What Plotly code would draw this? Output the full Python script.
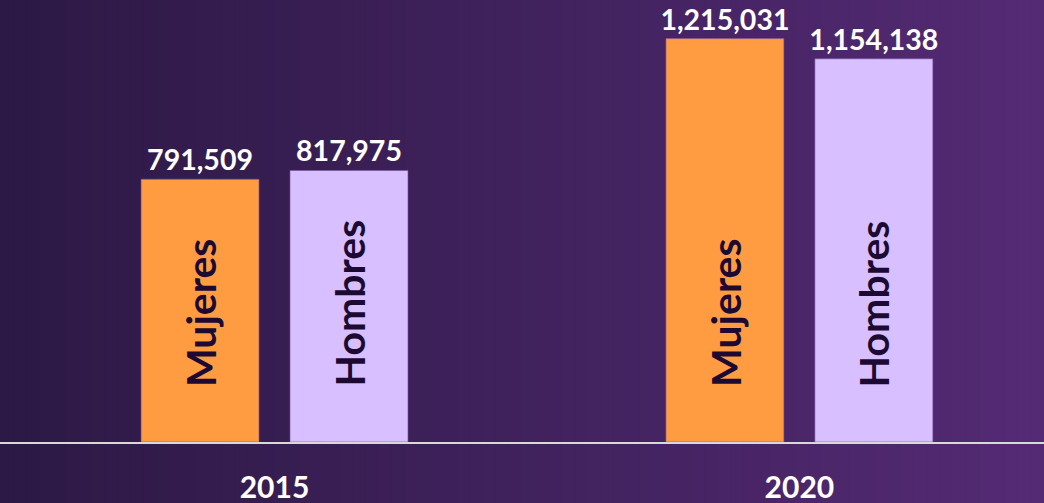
import plotly.graph_objects as go

years = ["2015", "2020"]
series_names = ["Mujeres", "Hombres"]
mujeres = [791509, 1215031]
hombres = [817975, 1154138]

W, H = 1044, 503
ORANGE = "#FF9C42"
LAVENDER = "#D8BFFF"
DARK = "#1c0a33"
FONT = "Lato"

fig = go.Figure()
for name, vals, col in [(series_names[0], mujeres, ORANGE), (series_names[1], hombres, LAVENDER)]:
    fig.add_trace(go.Bar(
        name=name, x=years, y=vals,
        marker=dict(color=col, line=dict(color="rgba(120,80,160,0.6)", width=1)),
        text=[f"{v:,}" for v in vals], textposition="outside", constraintext="none",
        textfont=dict(family=FONT, size=28.5, color="white", weight="bold"),
        cliponaxis=False,
    ))

# gradient background stripes
n = 80
c0 = (44, 25, 69)
c1 = (84, 42, 116)
shapes = []
for i in range(n):
    t = i / (n - 1)
    c = tuple(int(round(a + (b - a) * t)) for a, b in zip(c0, c1))
    shapes.append(dict(type="rect", xref="paper", yref="paper", layer="below",
                       x0=i / n, x1=(i + 1) / n + 0.002, y0=-0.5, y1=1.05,
                       fillcolor=f"rgb{c}", line=dict(width=0)))

annotations = []
for gi, yr in enumerate(years):
    for name, shift in [(series_names[0], -74.5), (series_names[1], 74.5)]:
        annotations.append(dict(
            x=gi, y=0, xref="x", yref="y", text=f"<b>{name}</b>", showarrow=False,
            textangle=-90, xshift=shift, yshift=53, yanchor="bottom", xanchor="center",
            font=dict(family=FONT, size=41, color=DARK),
        ))

fig.update_layout(
    width=W, height=H,
    margin=dict(l=0, r=0, t=0, b=61),
    paper_bgcolor="rgb(60,33,88)",
    plot_bgcolor="rgba(0,0,0,0)",
    barmode="group", bargap=0.4324, bargroupgap=0.208,
    showlegend=False,
    shapes=shapes,
    annotations=annotations,
    xaxis=dict(type="category", range=[-0.523, 1.466], showgrid=False, zeroline=False,
               automargin=False,
               showline=True, linecolor="#d9d9d9", linewidth=2,
               ticks="outside", ticklen=18, tickcolor="rgba(0,0,0,0)",
               tickfont=dict(family=FONT, size=30, color="white", weight="bold")),
    yaxis=dict(range=[0, 1331300], visible=False, showgrid=False, zeroline=False,
               automargin=False),
)

fig.write_html("out.html", post_script="document.body.style.margin='0';",
               config={"displayModeBar": False})
